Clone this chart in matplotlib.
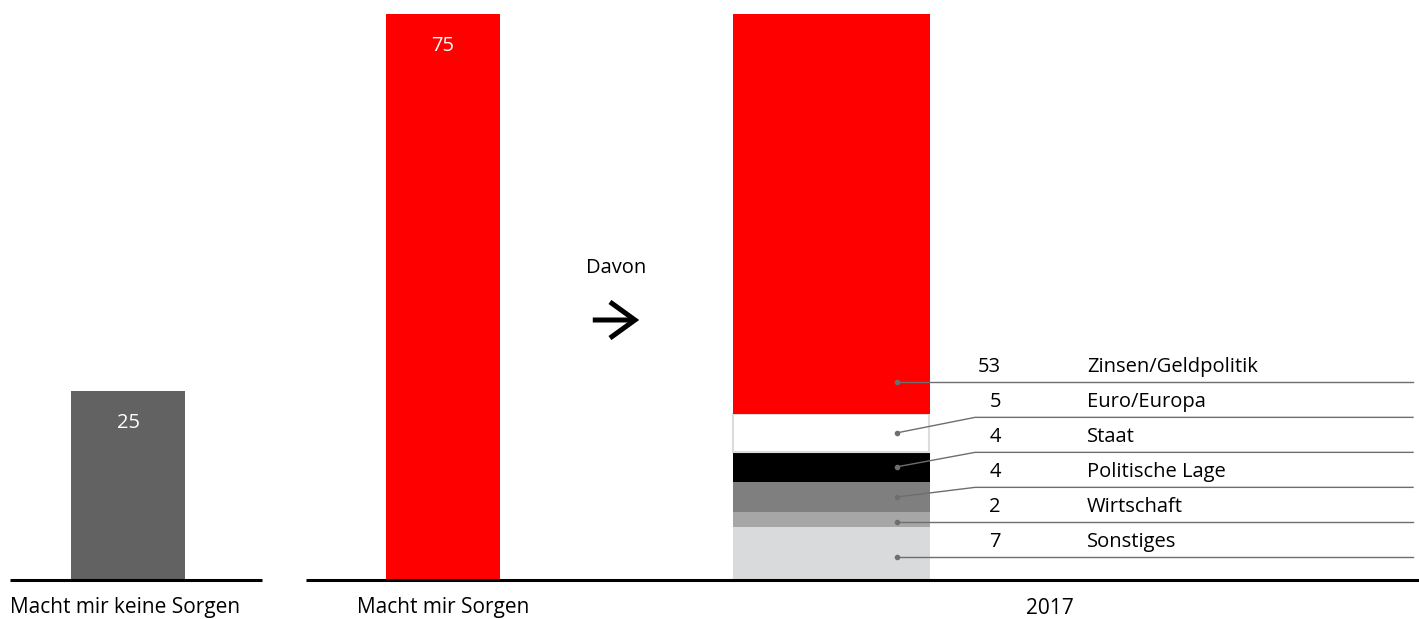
import numpy as np
import matplotlib
matplotlib.use("Agg")
import matplotlib.pyplot as plt

plt.rcParams['font.family'] = ['Open Sans', 'DejaVu Sans']

# daten
haupt_labels = ['Macht mir keine Sorgen', 'Macht mir Sorgen']
haupt_werte = [25, 75]

themen = ['Sonstiges', 'Wirtschaft', 'Politische Lage', 'Staat', 'Euro/Europa', 'Zinsen/Geldpolitik']
themen_werte = [7, 2, 4, 4, 5, 53]
themen_farben = ['#d9dadb', '#a6a6a6', '#7f7f7f', '#000000', '#ffffff', '#ff0000']
jahr = '2017'

W, H = 1419, 619
px = 566 / 75  # pixel pro einheit
fig = plt.figure(figsize=(W / 100, H / 100), dpi=100)
ax = fig.add_axes([0, 0, 1, 1])
ax.set_xlim(0, W)
ax.set_ylim(-(H - 580) / px, 580 / px)
ax.axis('off')

# linke und mittlere saeule
x_haupt = [128, 443]
ax.bar(x_haupt, haupt_werte, width=114, color=['#626262', '#ff0000'], zorder=2)
for x, v in zip(x_haupt, haupt_werte):
    ax.text(x, v - 32 / px, str(v), color='white', ha='center', va='center', fontsize=14.5, zorder=3)

# gestapelte saeule
unten = np.concatenate([[0], np.cumsum(themen_werte)[:-1]])
for v, b, c in zip(themen_werte, unten, themen_farben):
    ec = '#dcdcdc' if c == '#ffffff' else c
    lw = 1.5 if c == '#ffffff' else 0
    ax.bar(831, v, width=196 if lw else 197, bottom=b, color=c, edgecolor=ec, linewidth=lw, zorder=2)

# beschriftung rechts mit fuehrungslinien
zeilen = 3.0 + np.arange(len(themen)) * 35 / px
mitten = unten + np.array(themen_werte) / 2
punkte = np.minimum(mitten, zeilen)
for name, v, zy, py in zip(themen, themen_werte, zeilen, punkte):
    ax.plot([897, 975, 1413], [py, zy, zy], color='#6e6e6e', lw=1.0, zorder=3)
    ax.plot([897], [py], 'o', color='#6e6e6e', ms=3, zorder=4)
    ax.text(1001, zy + 15 / px, str(v), ha='right', va='center', fontsize=14.5, color='black')
    ax.text(1087, zy + 15 / px, name, ha='left', va='center', fontsize=14.5, color='black')

# achsenlinien
ax.plot([10, 262], [0, 0], color='black', lw=2.2, zorder=5, solid_capstyle='butt')
ax.plot([306, 1419], [0, 0], color='black', lw=2.2, zorder=5, solid_capstyle='butt')

# kategorien
ax.text(125, -28 / px, haupt_labels[0], ha='center', va='center', fontsize=15)
ax.text(443, -28 / px, haupt_labels[1], ha='center', va='center', fontsize=15)
ax.text(1050, -28 / px, jahr, ha='center', va='center', fontsize=15)

# davon pfeil
ax.text(616, (580 - 268) / px, 'Davon', ha='center', va='center', fontsize=14.5)
ax.annotate('', xy=(642, (580 - 320) / px), xytext=(590, (580 - 320) / px),
            arrowprops=dict(arrowstyle='->,head_length=1.8,head_width=1.3', lw=3.6, color='black',
                            joinstyle='miter', capstyle='butt'))

fig.savefig('out.png', dpi=100)
